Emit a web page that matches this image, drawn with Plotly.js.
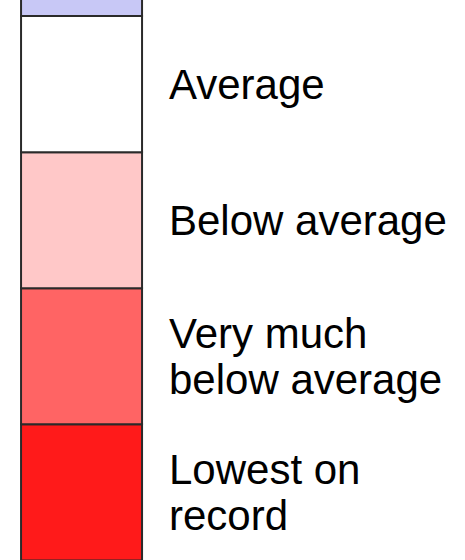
<!DOCTYPE html>
<html>
<head>
<meta charset="utf-8">
<script src="https://cdn.plot.ly/plotly-3.0.1.min.js"></script>
<style>html,body{margin:0;padding:0;background:#fff;}#chart{width:465px;height:560px;}</style>
</head>
<body>
<div id="chart"></div>
<script>
// Legend categories, bottom to top
const categories = ["Lowest on<br>record", "Very much<br>below average", "Below average", "Average", "Above average"];
const showLabel = [true, true, true, true, false];
const segmentSizes = [1, 1, 1, 1, 1];
const segmentColors = ["#ff1a1a", "#ff6464", "#ffc8c8", "#ffffff", "#c8c8f6"];

const bases = [];
let acc = 0;
for (const s of segmentSizes) { bases.push(acc); acc += s; }

const trace = {
  type: "bar",
  x: segmentSizes.map(() => 0),
  y: segmentSizes,
  base: bases,
  width: 1,
  marker: { color: segmentColors, line: { color: "#2a2a2a", width: 2 } },
  hoverinfo: "skip",
  showlegend: false
};

const fontSize = 42;
const lineGap = 0.335; // in y units between lines
const annotations = [];
categories.forEach((c, i) => {
  if (!showLabel[i]) return;
  const lines = c.split("<br>");
  const mid = bases[i] + segmentSizes[i] / 2;
  lines.forEach((ln, j) => {
    const y = mid + ((lines.length - 1) / 2 - j) * lineGap;
    annotations.push({
      x: 0.71, y: y, xref: "x", yref: "y",
      text: ln, showarrow: false, xanchor: "left", yanchor: "middle",
      yshift: 0,
      font: { family: "Liberation Sans, Arial, sans-serif", size: fontSize, color: "#000" }
    });
  });
});

const layout = {
  width: 465, height: 560,
  margin: { l: 0, r: 0, t: 0, b: 0, pad: 0 },
  paper_bgcolor: "#fff", plot_bgcolor: "#fff",
  showlegend: false,
  xaxis: { range: [-0.674, 3.169], visible: false, fixedrange: true },
  yaxis: { range: [0.003, 4.118], visible: false, fixedrange: true },
  annotations: annotations
};

Plotly.newPlot("chart", [trace], layout, { staticPlot: true, displayModeBar: false });
</script>
</body>
</html>
